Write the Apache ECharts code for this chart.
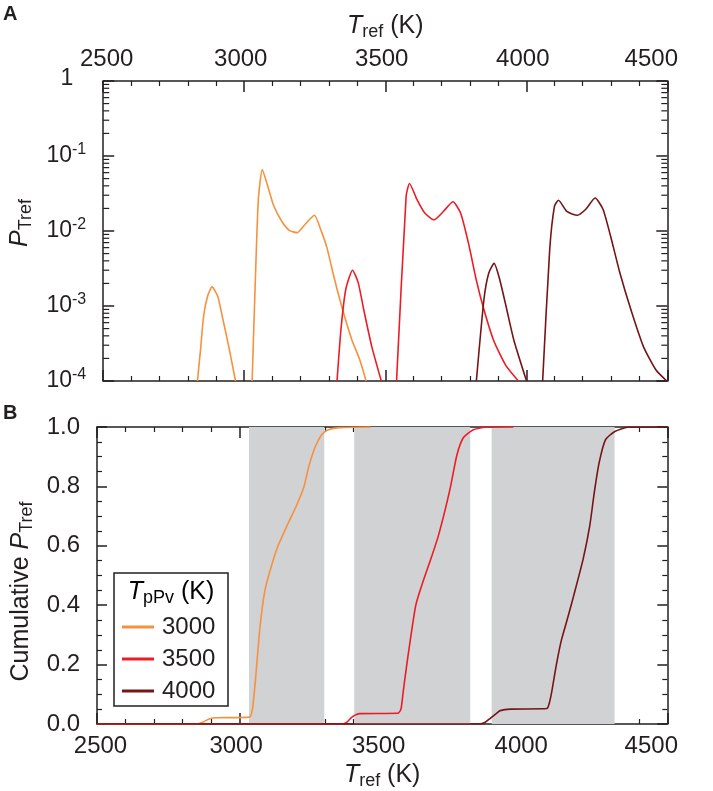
<!DOCTYPE html>
<html lang="en">
  <head>
    <meta charset="UTF-8" />
    <title>P_Tref distributions</title>
    <script src="https://cdn.jsdelivr.net/npm/echarts@6/dist/echarts.min.js"></script>
    <style>
      html, body { margin: 0; padding: 0; background: #fff; }
      #chart { width: 713px; height: 791px; }
    </style>
  </head>
  <body>
    <div id="chart"></div>
  </body>
</html>
<script>
  // --- data ---
  const seriesNames = ["3000", "3500", "4000"];
  const colors = ["#f7913d", "#ed1c24", "#761416"];

  // panel A: P_Tref vs T_ref (log scale); null splits separate peaks
  const probA3000 = [
    [2834, 1e-4], [2845, 2.6e-4], [2856, 7.3e-4], [2870, 1.35e-3], [2886, 1.8e-3],
    [2906, 1.35e-3], [2922, 7.3e-4], [2945, 2.9e-4], [2969, 1e-4], [2990, null],
    [3028, 1e-4], [3039, 2.0e-3], [3050, 0.026], [3064, 0.066], [3083, 0.040],
    [3105, 0.0215], [3133, 0.0135], [3160, 0.0102], [3188, 0.0095], [3216, 0.0123],
    [3249, 0.0162], [3271, 0.0105], [3293, 0.0060], [3321, 0.0022], [3349, 8.9e-4],
    [3382, 3.5e-4], [3409, 1.95e-4], [3432, 1e-4]
  ];
  const probA3500 = [
    [3329, 1e-4], [3343, 4.9e-4], [3360, 1.66e-3], [3384, 3.0e-3], [3404, 2.05e-3],
    [3426, 8.1e-4], [3452, 2.9e-4], [3486, 1e-4], [3510, null],
    [3540, 1e-4], [3574, 0.029], [3586, 0.043], [3613, 0.026], [3640, 0.0174],
    [3673, 0.0141], [3706, 0.0182], [3740, 0.0245], [3767, 0.0174], [3795, 0.0069],
    [3823, 0.0022], [3850, 8.9e-4], [3884, 3.5e-4], [3928, 1.6e-4], [3972, 1e-4]
  ];
  const probA4000 = [
    [3823, 1e-4], [3850, 1.23e-3], [3867, 2.75e-3], [3886, 3.7e-3], [3906, 2.24e-3],
    [3928, 1.0e-3], [3956, 3.5e-4], [4001, 1e-4], [4030, null],
    [4058, 1e-4], [4083, 5.6e-3], [4100, 0.0214], [4114, 0.0257], [4144, 0.0182],
    [4181, 0.0162], [4211, 0.0195], [4244, 0.0275], [4272, 0.0195], [4299, 0.0085],
    [4332, 0.00275], [4371, 8.9e-4], [4415, 2.9e-4], [4460, 1.4e-4], [4498, 1e-4]
  ];

  // panel B: cumulative P_Tref
  const cumB3000 = [
    [2500, 0], [2850, 0], [2875, 0.008], [2895, 0.018], [2920, 0.021], [3035, 0.023],
    [3045, 0.05], [3054, 0.13], [3072, 0.33], [3088, 0.445], [3105, 0.51], [3133, 0.595],
    [3166, 0.667], [3199, 0.734], [3226, 0.80], [3243, 0.868], [3266, 0.935],
    [3288, 0.974], [3309, 0.99], [3352, 0.998], [3460, 1.0]
  ];
  const cumB3500 = [
    [2500, 0], [3360, 0], [3375, 0.005], [3390, 0.02], [3405, 0.03], [3420, 0.035],
    [3555, 0.036], [3566, 0.05], [3574, 0.11], [3585, 0.19], [3596, 0.265], [3618, 0.40],
    [3640, 0.47], [3674, 0.565], [3696, 0.63], [3718, 0.71], [3740, 0.80], [3762, 0.905],
    [3784, 0.963], [3818, 0.99], [3862, 0.999], [3960, 1.0]
  ];
  const cumB4000 = [
    [2500, 0], [3840, 0], [3860, 0.005], [3880, 0.02], [3900, 0.035], [3914, 0.045],
    [3950, 0.05], [4078, 0.052], [4086, 0.07], [4095, 0.11], [4111, 0.2], [4128, 0.28],
    [4150, 0.355], [4172, 0.433], [4205, 0.556], [4228, 0.667], [4244, 0.78],
    [4261, 0.88], [4283, 0.957], [4316, 0.985], [4361, 0.999], [4500, 1.0]
  ];

  // shaded T_ref ranges in panel B
  const bandRanges = [[3033, 3297], [3402, 3809], [3884, 4315]];

  // log-axis minor tick positions (2..9 per decade)
  const logMinorTicks = [];
  [1e-4, 1e-3, 1e-2, 1e-1].forEach((d) => {
    for (let k = 2; k <= 9; k++) logMinorTicks.push(d * k);
  });

  const ink = "#231f20";
  const font = "'Liberation Sans', Arial, sans-serif";

  const chart = echarts.init(document.getElementById("chart"));

  const nameRich = {
    i: { fontStyle: "italic", fontSize: 25, lineHeight: 30, fontFamily: font, color: ink },
    n: { fontSize: 25, lineHeight: 30, fontFamily: font, color: ink },
    sub: { fontSize: 18, lineHeight: 18, verticalAlign: "bottom", fontFamily: font, color: ink },
    pad: { width: 32 },
    lead: { width: 16 },
  };

  const tickRich = {
    c: { fontSize: 24, fontFamily: font, color: ink, lineHeight: 24, padding: [0, 7, 0, 0] },
    l: { fontSize: 24, fontFamily: font, color: ink, lineHeight: 24, padding: [0, 0, 0, 7] },
    r: { fontSize: 24, fontFamily: font, color: ink, lineHeight: 24, padding: [0, 32, 0, 0] },
  };

  function xAxisBase(grid, pos, showLabel) {
    return {
      type: "value",
      gridIndex: grid,
      position: pos,
      min: 2500,
      max: 4500,
      interval: 500,
      axisLine: { onZero: false, lineStyle: { color: ink, width: 1.5 } },
      axisTick: { inside: true, length: 11, lineStyle: { color: ink, width: 1.5 } },
      minorTick: { show: true, splitNumber: 5, length: 5, lineStyle: { color: ink, width: 1.2 } },
      splitLine: { show: false },
      axisLabel: {
        show: showLabel,
        margin: 10,
        formatter: (v) => (v === 2500 ? "{l|" + v + "}" : v === 4500 ? "{r|" + v + "}" : "{c|" + v + "}"),
        rich: tickRich,
      },
    };
  }

  function logAxis(pos, showLabel) {
    return {
      type: "log",
      logBase: 10,
      gridIndex: 0,
      position: pos,
      min: 1e-4,
      max: 1,
      splitNumber: 4,
      axisLine: { onZero: false, lineStyle: { color: ink, width: 1.5 } },
      axisTick: { inside: true, length: 11, lineStyle: { color: ink, width: 1.5 } },
      splitLine: { show: false },
      axisLabel: {
        show: showLabel,
        margin: 17,
        formatter: (v) => {
          const e = Math.round(Math.log10(v));
          return e === 0 ? "{one|1}{gap|}" : "{n|10}{sup|" + e + "}";
        },
        rich: {
          n: { fontSize: 23, fontFamily: font, color: ink, lineHeight: 28 },
          one: { fontSize: 23, fontFamily: font, color: ink, lineHeight: 28, padding: [0, 0, 5, 0] },
          sup: { fontSize: 16, fontFamily: font, color: ink, lineHeight: 16, verticalAlign: "top" },
          gap: { width: 13 },
        },
      },
    };
  }

  function linAxis(pos, showLabel) {
    return {
      type: "value",
      gridIndex: 1,
      position: pos,
      min: 0,
      max: 1,
      interval: 0.2,
      axisLine: { onZero: false, lineStyle: { color: ink, width: 1.5 } },
      axisTick: { inside: true, length: 10, lineStyle: { color: ink, width: 1.5 } },
      minorTick: { show: true, splitNumber: 4, length: 5, lineStyle: { color: ink, width: 1.2 } },
      splitLine: { show: false },
      axisLabel: {
        show: showLabel,
        margin: 17,
        fontSize: 24,
        fontFamily: font,
        color: ink,
        formatter: (v) => v.toFixed(1),
      },
    };
  }

  const topX = xAxisBase(0, "top", true);
  topX.name = "{i|T}{sub|ref}{n| (K)}";
  topX.nameLocation = "middle";
  topX.nameGap = 40;
  topX.nameTextStyle = { rich: nameRich };

  const botX = xAxisBase(1, "bottom", true);
  botX.name = "{i|T}{sub|ref}{n| (K)}";
  botX.nameLocation = "middle";
  botX.nameGap = 36;
  botX.nameTextStyle = { rich: nameRich };

  const leftLog = logAxis("left", true);
  leftLog.name = "{lead|}{i|P}{sub|Tref}";
  leftLog.nameLocation = "middle";
  leftLog.nameGap = 56;
  leftLog.nameRotate = 90;
  leftLog.nameTextStyle = { rich: nameRich };

  const leftLin = linAxis("left", true);
  leftLin.name = "{n|Cumulative }{i|P}{sub|Tref}{pad|}";
  leftLin.nameLocation = "middle";
  leftLin.nameGap = 60;
  leftLin.nameRotate = 90;
  leftLin.nameTextStyle = { rich: nameRich };

  const probA = [probA3000, probA3500, probA4000];
  const cumB = [cumB3000, cumB3500, cumB4000];

  const series = [];
  probA.forEach((d, i) => {
    series.push({
      name: seriesNames[i],
      type: "line",
      xAxisIndex: 0,
      yAxisIndex: 0,
      data: d,
      symbol: "none",
      smooth: 0.2,
      connectNulls: false,
      lineStyle: { color: colors[i], width: 1.6 },
      itemStyle: { color: colors[i] },
    });
  });
  cumB.forEach((d, i) => {
    const s = {
      name: seriesNames[i],
      type: "line",
      xAxisIndex: 2,
      yAxisIndex: 2,
      data: d,
      symbol: "none",
      smooth: 0.2,
      lineStyle: { color: colors[i], width: 1.6 },
      itemStyle: { color: colors[i] },
    };
    if (i === 0) {
      s.markArea = {
        silent: true,
        itemStyle: { color: "#d1d2d4" },
        data: bandRanges.map((r) => [{ xAxis: r[0] }, { xAxis: r[1] }]),
      };
    }
    series.push(s);
  });
  // log minor ticks on left and right edges of panel A
  series.push({
    type: "custom",
    xAxisIndex: 0,
    yAxisIndex: 0,
    silent: true,
    data: logMinorTicks.map((v) => [2500, v]),
    renderItem: (params, api) => {
      const l = api.coord([2500, api.value(1)]);
      const r = api.coord([4500, api.value(1)]);
      const st = { stroke: ink, lineWidth: 1.2 };
      return {
        type: "group",
        children: [
          { type: "line", shape: { x1: l[0], y1: l[1], x2: l[0] + 6, y2: l[1] }, style: st },
          { type: "line", shape: { x1: r[0], y1: r[1], x2: r[0] - 6, y2: r[1] }, style: st },
        ],
      };
    },
  });

  const option = {
    animation: false,
    grid: [
      { left: 97, right: 14, top: 81, height: 300 },
      { left: 97, right: 14, top: 427, height: 299 },
    ],
    xAxis: [topX, xAxisBase(0, "bottom", false), botX, xAxisBase(1, "top", false)],
    yAxis: [leftLog, logAxis("right", false), leftLin, linAxis("right", false)],
    legend: {
      data: seriesNames,
      orient: "vertical",
      left: 122,
      top: 614,
      padding: 0,
      icon: "rect",
      itemWidth: 32,
      itemHeight: 3,
      itemGap: 6,
      textStyle: { fontSize: 24, fontFamily: font, color: ink, lineHeight: 26, padding: [0, 0, 0, 3] },
      selectedMode: false,
    },
    graphic: [
      { type: "text", left: 3, top: 4, style: { text: "A", font: "bold 20px " + font, fill: ink } },
      { type: "text", left: 3, top: 403, style: { text: "B", font: "bold 20px " + font, fill: ink } },
      {
        type: "rect",
        shape: { x: 114, y: 573, width: 114, height: 133 },
        style: { fill: "transparent", stroke: ink, lineWidth: 1.5 },
        z: 10,
      },
      {
        type: "text",
        x: 171,
        y: 592,
        z: 10,
        style: {
          text: "{i|T}{sub|pPv}{n| (K)}",
          align: "center",
          verticalAlign: "middle",
          rich: nameRich,
        },
      },
    ],
    series: series,
  };
  chart.setOption(option);
</script>
